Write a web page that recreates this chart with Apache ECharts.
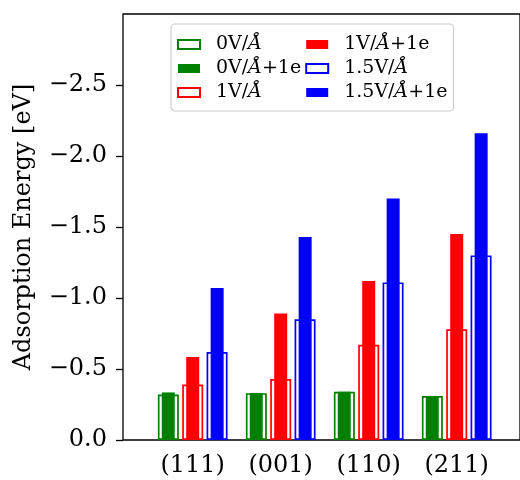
<!DOCTYPE html>
<html>
<head>
<meta charset="utf-8">
<script src="https://cdn.jsdelivr.net/npm/echarts@6/dist/echarts.min.js"></script>
<style>
  html, body { margin: 0; padding: 0; background: #fff; }
  #chart { width: 520px; height: 480px; }
</style>
</head>
<body>
<div id="chart"></div>
<script>
// facets on the x axis
const categories = ['(111)', '(001)', '(110)', '(211)'];

// adsorption energies (eV)
const e0V = [-0.32, -0.33, -0.34, -0.31];
const e0V1e = [-0.335, -0.33, -0.34, -0.31];
const e1V = [-0.39, -0.43, -0.67, -0.78];
const e1V1e = [-0.585, -0.89, -1.12, -1.45];
const e15V = [-0.62, -0.85, -1.11, -1.30];
const e15V1e = [-1.07, -1.43, -1.70, -2.16];

const yTicks = [0, -0.5, -1.0, -1.5, -2.0, -2.5];
const legendOrder = ['0V/Å', '0V/Å+1e', '1V/Å', '1V/Å+1e', '1.5V/Å', '1.5V/Å+1e'];

const FONT = 'DejaVu Serif';

function outlined(name, data, color) {
    return {
        name: name,
        type: 'bar',
        xAxisIndex: 1,
        yAxisIndex: 1,
        data: data,
        barWidth: 21,
        barGap: '16%',
        z: 2,
        itemStyle: { color: '#ffffff', borderColor: color, borderWidth: 1.7 }
    };
}

function filled(name, data, color) {
    return {
        name: name,
        type: 'bar',
        xAxisIndex: 2,
        yAxisIndex: 1,
        data: data,
        barWidth: 13,
        barGap: '88%',
        z: 3,
        itemStyle: { color: color }
    };
}

const yScale = { type: 'value', inverse: true, min: -3, max: 0 };

const chart = echarts.init(document.getElementById('chart'));
const option = {
    animation: false,
    backgroundColor: '#ffffff',
    grid: [
        // frame
        { left: 123, right: -3, top: 14, bottom: 40, show: true, borderColor: '#000', borderWidth: 1.3, backgroundColor: 'transparent' },
        // bars
        { left: 148.7, right: 19.3, top: 14, bottom: 40 }
    ],
    legend: {
        orient: 'vertical',
        left: 171,
        top: 24,
        height: 72,
        padding: [11, 6, 9, 6],
        itemGap: 5,
        itemWidth: 22,
        itemHeight: 9,
        icon: 'rect',
        backgroundColor: '#ffffff',
        borderColor: '#cccccc',
        borderWidth: 1.2,
        borderRadius: 4,
        data: legendOrder,
        formatter: name => name.replace('Å', '{i|Å}'),
        textStyle: {
            fontFamily: FONT,
            fontSize: 19,
            color: '#000',
            padding: [0, 0, 0, 11],
            rich: { i: { fontFamily: FONT, fontSize: 19, fontStyle: 'italic', color: '#000' } }
        }
    },
    xAxis: [
        { type: 'value', gridIndex: 0, show: false, min: 0, max: 1 },
        {
            type: 'category',
            gridIndex: 1,
            data: categories,
            axisLine: { show: false },
            axisTick: { alignWithLabel: true, length: 7, lineStyle: { color: '#000', width: 1.3 } },
            axisLabel: { fontFamily: FONT, fontSize: 24, color: '#000', margin: 14 }
        },
        { type: 'category', gridIndex: 1, data: categories, show: false, position: 'top' }
    ],
    yAxis: [
        Object.assign({}, yScale, {
            gridIndex: 0,
            name: 'Adsorption Energy [eV]',
            nameLocation: 'middle',
            nameGap: 87,
            nameTextStyle: { fontFamily: FONT, fontSize: 24, color: '#000' },
            axisLine: { show: false },
            splitLine: { show: false },
            axisTick: { show: true, length: 7, customValues: yTicks, lineStyle: { color: '#000', width: 1.3 } },
            axisLabel: {
                fontFamily: FONT,
                fontSize: 24,
                color: '#000',
                margin: 16,
                customValues: yTicks,
                formatter: v => (v === 0 ? '0.0' : '\u2212' + Math.abs(v).toFixed(1))
            }
        }),
        Object.assign({}, yScale, { gridIndex: 1, show: false, splitLine: { show: false } })
    ],
    series: [
        outlined('0V/Å', e0V, '#008000'),
        outlined('1V/Å', e1V, '#ff0000'),
        outlined('1.5V/Å', e15V, '#0000ff'),
        filled('0V/Å+1e', e0V1e, '#008000'),
        filled('1V/Å+1e', e1V1e, '#ff0000'),
        filled('1.5V/Å+1e', e15V1e, '#0000ff')
    ]
};
chart.setOption(option);
</script>
</body>
</html>
